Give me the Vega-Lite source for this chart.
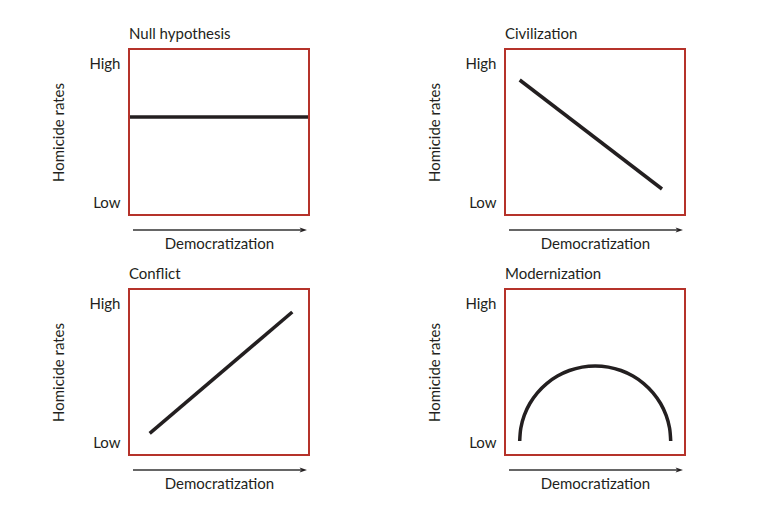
{
  "$schema": "https://vega.github.io/schema/vega-lite/v6.json",
  "background": "white",
  "padding": {"left": 50, "top": 26, "right": 5, "bottom": 5},
  "config": {
    "font": "Lato",
    "view": {"stroke": "#b5322a", "strokeWidth": 2},
    "title": {"anchor": "start", "frame": "group", "fontSize": 15, "fontWeight": "normal", "color": "#231f20", "offset": 7},
    "axisY": {"domain": false, "ticks": false, "grid": false, "labelFontSize": 15, "labelColor": "#231f20", "labelPadding": 9, "titleFontSize": 15, "titleFontWeight": "normal", "titleColor": "#231f20", "titlePadding": 22},
    "axisX": {"domain": false, "ticks": false, "grid": false, "labels": false, "titleFontSize": 15, "titleFontWeight": "normal", "titleColor": "#231f20", "titlePadding": 21}
  },
  "datasets": {
    "arrow": [{"x": 4, "x2": 172, "y": -15, "tip": 178}],
    "null": [{"x": 1, "y": 98}, {"x": 179, "y": 98}],
    "civ": [{"x": 14.7, "y": 135}, {"x": 157, "y": 26}],
    "con": [{"x": 20.7, "y": 21.7}, {"x": 163.3, "y": 143}],
    "mod": [
      {"x": 14.7, "y": 14}, {"x": 15.85, "y": 27.02}, {"x": 19.25, "y": 39.65}, {"x": 24.82, "y": 51.5},
      {"x": 32.37, "y": 62.21}, {"x": 41.67, "y": 71.45}, {"x": 52.45, "y": 78.95}, {"x": 64.38, "y": 84.48},
      {"x": 77.09, "y": 87.86}, {"x": 90.2, "y": 89}, {"x": 103.31, "y": 87.86}, {"x": 116.02, "y": 84.48},
      {"x": 127.95, "y": 78.95}, {"x": 138.73, "y": 71.45}, {"x": 148.03, "y": 62.21}, {"x": 155.58, "y": 51.5},
      {"x": 161.15, "y": 39.65}, {"x": 164.55, "y": 27.02}, {"x": 165.7, "y": 14}
    ]
  },
  "columns": 2,
  "spacing": {"column": 110, "row": 14},
  "concat": [
    {
      "width": 180, "height": 166,
      "title": "Null hypothesis",
      "layer": [
        {"data": {"name": "null"}, "mark": {"type": "line", "color": "#231f20", "strokeWidth": 3.5},
         "encoding": {"x": {"field": "x", "type": "quantitative", "scale": {"domain": [0, 180], "nice": false}, "title": "Democratization"},
                      "y": {"field": "y", "type": "quantitative", "scale": {"domain": [0, 166], "nice": false}, "title": "Homicide rates", "axis": {"values": [13, 152], "labelExpr": "datum.value > 80 ? 'High' : 'Low'"}}}},
        {"data": {"name": "arrow"}, "mark": {"type": "rule", "color": "#333333", "strokeWidth": 1.5},
         "encoding": {"x": {"field": "x", "type": "quantitative"}, "x2": {"field": "x2"}, "y": {"field": "y", "type": "quantitative"}}},
        {"data": {"name": "arrow"}, "mark": {"type": "point", "filled": true, "opacity": 1, "color": "#231f20", "size": 220, "shape": "M0,0L-1,-0.33L-0.75,0L-1,0.33Z"},
         "encoding": {"x": {"field": "tip", "type": "quantitative"}, "y": {"field": "y", "type": "quantitative"}}}
      ]
    },
    {
      "width": 180, "height": 166,
      "title": "Civilization",
      "layer": [
        {"data": {"name": "civ"}, "mark": {"type": "line", "color": "#231f20", "strokeWidth": 3.5},
         "encoding": {"x": {"field": "x", "type": "quantitative", "scale": {"domain": [0, 180], "nice": false}, "title": "Democratization"},
                      "y": {"field": "y", "type": "quantitative", "scale": {"domain": [0, 166], "nice": false}, "title": "Homicide rates", "axis": {"values": [13, 152], "labelExpr": "datum.value > 80 ? 'High' : 'Low'"}}}},
        {"data": {"name": "arrow"}, "mark": {"type": "rule", "color": "#333333", "strokeWidth": 1.5},
         "encoding": {"x": {"field": "x", "type": "quantitative"}, "x2": {"field": "x2"}, "y": {"field": "y", "type": "quantitative"}}},
        {"data": {"name": "arrow"}, "mark": {"type": "point", "filled": true, "opacity": 1, "color": "#231f20", "size": 220, "shape": "M0,0L-1,-0.33L-0.75,0L-1,0.33Z"},
         "encoding": {"x": {"field": "tip", "type": "quantitative"}, "y": {"field": "y", "type": "quantitative"}}}
      ]
    },
    {
      "width": 180, "height": 166,
      "title": "Conflict",
      "layer": [
        {"data": {"name": "con"}, "mark": {"type": "line", "color": "#231f20", "strokeWidth": 3.5},
         "encoding": {"x": {"field": "x", "type": "quantitative", "scale": {"domain": [0, 180], "nice": false}, "title": "Democratization"},
                      "y": {"field": "y", "type": "quantitative", "scale": {"domain": [0, 166], "nice": false}, "title": "Homicide rates", "axis": {"values": [13, 152], "labelExpr": "datum.value > 80 ? 'High' : 'Low'"}}}},
        {"data": {"name": "arrow"}, "mark": {"type": "rule", "color": "#333333", "strokeWidth": 1.5},
         "encoding": {"x": {"field": "x", "type": "quantitative"}, "x2": {"field": "x2"}, "y": {"field": "y", "type": "quantitative"}}},
        {"data": {"name": "arrow"}, "mark": {"type": "point", "filled": true, "opacity": 1, "color": "#231f20", "size": 220, "shape": "M0,0L-1,-0.33L-0.75,0L-1,0.33Z"},
         "encoding": {"x": {"field": "tip", "type": "quantitative"}, "y": {"field": "y", "type": "quantitative"}}}
      ]
    },
    {
      "width": 180, "height": 166,
      "title": "Modernization",
      "layer": [
        {"data": {"name": "mod"}, "mark": {"type": "line", "color": "#231f20", "strokeWidth": 3.5, "interpolate": "cardinal"},
         "encoding": {"x": {"field": "x", "type": "quantitative", "scale": {"domain": [0, 180], "nice": false}, "title": "Democratization"},
                      "y": {"field": "y", "type": "quantitative", "scale": {"domain": [0, 166], "nice": false}, "title": "Homicide rates", "axis": {"values": [13, 152], "labelExpr": "datum.value > 80 ? 'High' : 'Low'"}}}},
        {"data": {"name": "arrow"}, "mark": {"type": "rule", "color": "#333333", "strokeWidth": 1.5},
         "encoding": {"x": {"field": "x", "type": "quantitative"}, "x2": {"field": "x2"}, "y": {"field": "y", "type": "quantitative"}}},
        {"data": {"name": "arrow"}, "mark": {"type": "point", "filled": true, "opacity": 1, "color": "#231f20", "size": 220, "shape": "M0,0L-1,-0.33L-0.75,0L-1,0.33Z"},
         "encoding": {"x": {"field": "tip", "type": "quantitative"}, "y": {"field": "y", "type": "quantitative"}}}
      ]
    }
  ]
}
